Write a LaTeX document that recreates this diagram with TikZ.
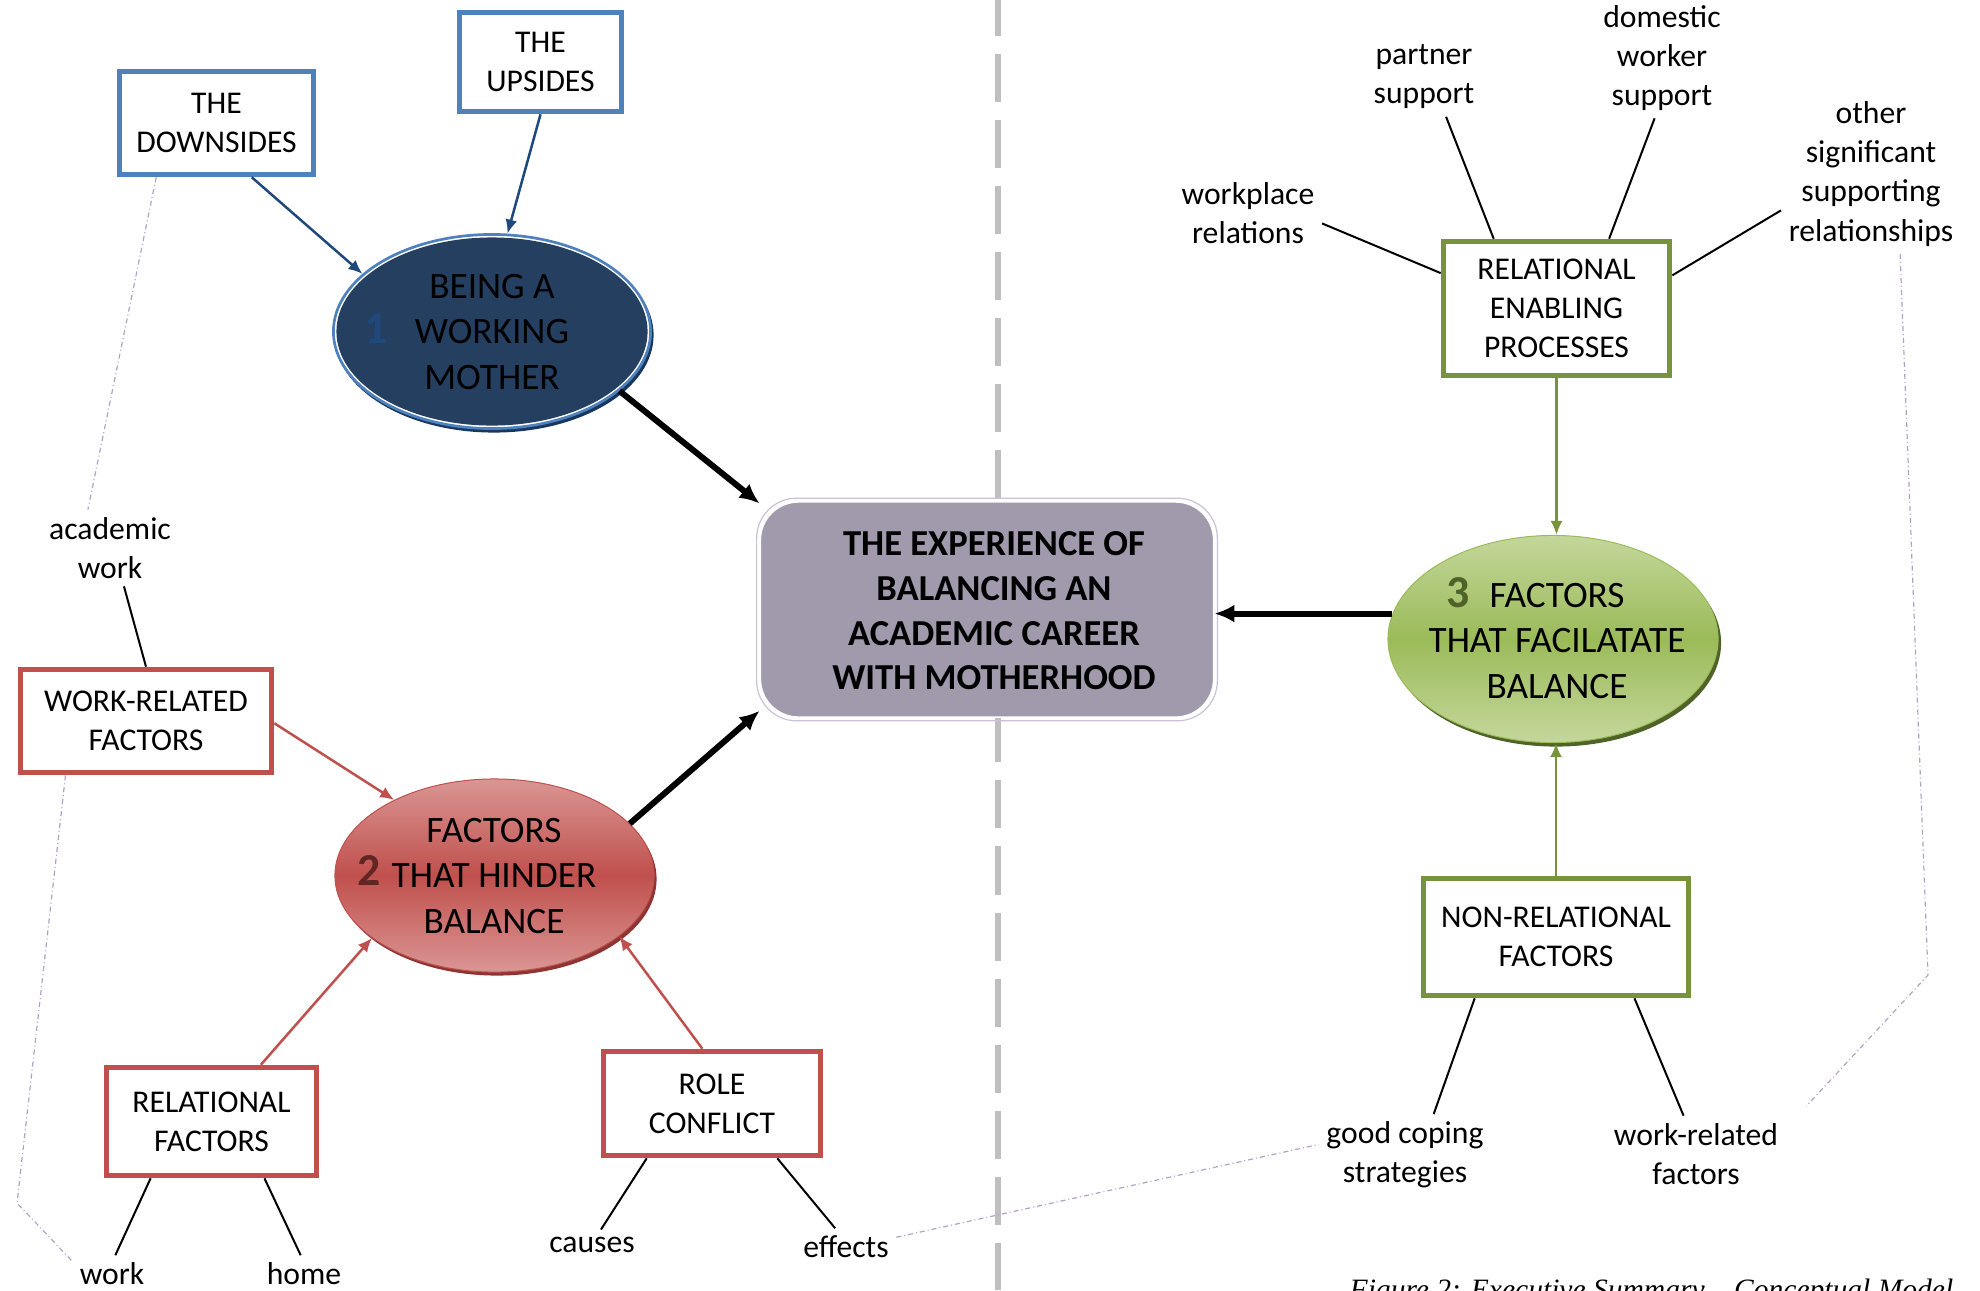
\documentclass[tikz,border=0pt]{standalone}
\usepackage{fontspec}
\setmainfont{Carlito}
\newfontfamily\capfont{Liberation Serif}
\usetikzlibrary{arrows.meta,shapes.geometric,calc}
\definecolor{bbl}{HTML}{4F81BD}
\definecolor{bdark}{HTML}{1F497D}
\definecolor{navy}{HTML}{243F60}
\definecolor{navysh}{HTML}{17375E}
\definecolor{rbox}{HTML}{C0504D}
\definecolor{rlight}{HTML}{DA9694}
\definecolor{rdark}{HTML}{8C3533}
\definecolor{rnum}{HTML}{632523}
\definecolor{gbox}{HTML}{77933C}
\definecolor{gmid}{HTML}{9BBB59}
\definecolor{glight}{HTML}{C4D79B}
\definecolor{gdark}{HTML}{4F6228}
\definecolor{cfill}{HTML}{A09AAC}
\definecolor{lav}{HTML}{CCC1DA}
\definecolor{lav2}{HTML}{B3A2C7}
\definecolor{divgray}{HTML}{BFBFBF}
\newcommand\bxf{\fontsize{9}{11.1}\selectfont}
\newcommand\elf{\fontsize{10.6}{12.9}\selectfont}
\newcommand\cbf{\fontsize{10.4}{12.7}\selectfont\bfseries}
\newcommand\numf{\fontsize{13}{13}\selectfont\bfseries}
\begin{document}
\begin{tikzpicture}[x=0.01cm,y=-0.01cm,
  bx/.style={draw, line width=0.055cm, fill=white, inner sep=0, align=center, font=\bxf},
  lab/.style={font=\bxf, align=center, inner sep=0.07cm},
  ellt/.style={font=\elf, align=center, inner sep=0},
  bigarr/.style={line width=0.06cm, -{Latex[length=0.2cm,width=0.18cm]}},
  smarr/.style={line width=0.025cm, -{Latex[length=0.14cm,width=0.12cm]}},
  lbl/.style={line width=0.02cm, draw=black},
  dd/.style={draw=lav2, line width=0.012cm, dash pattern=on 0.05cm off 0.03cm on 0.01cm off 0.03cm},
  ell/.style={ellipse, inner sep=0}
]
\useasboundingbox (0,0) rectangle (1980,1290);
\fill[white] (0,0) rectangle (1980,1290);

% divider
\draw[divgray, line width=0.06cm, dash pattern=on 0.48cm off 0.18cm, dash phase=0.12cm] (998,0) -- (998,1290);

% ---- ellipse 1
\node[ell, fill=navysh, minimum width=3.19cm, minimum height=1.95cm] (e1s) at (494,335) {};
\node[ell, draw=bbl, line width=0.027cm, fill=white, minimum width=3.17cm, minimum height=1.94cm] (e1) at (492,331.5) {};
\node[ell, fill=navy, minimum width=3.11cm, minimum height=1.88cm] (e1i) at (492,331.5) {};
\node[ellt] (e1t) at (492,332) {BEING A\\WORKING\\MOTHER};
\node[font=\numf, text=bdark, inner sep=0] (n1) at (376,329) {1};

% ---- ellipse 2
\node[ell, fill=rdark, minimum width=3.19cm, minimum height=1.93cm] (e2s) at (497,879) {};
\node[ell, draw=rbox, line width=0.01cm, top color=rlight, bottom color=rlight, middle color=rbox, minimum width=3.19cm, minimum height=1.93cm] (e2) at (494.5,875.5) {};
\node[ellt] (e2t) at (494,876) {FACTORS\\THAT HINDER\\BALANCE};
\node[font=\numf, text=rnum, inner sep=0] (n2) at (369,870) {2};

% ---- ellipse 3
\node[ell, fill=gdark, minimum width=3.3cm, minimum height=2.07cm] (e3s) at (1556,643) {};
\node[ell, draw=gmid, line width=0.01cm, top color=glight, bottom color=glight, middle color=gmid, minimum width=3.3cm, minimum height=2.07cm] (e3) at (1553,639) {};
\node[ellt] (e3t) at (1557,641) {FACTORS\\THAT FACILATATE\\BALANCE};
\node[font=\numf, text=gdark, inner sep=0] (n3) at (1458,593) {3};

% ---- centre box
\node[draw=white, line width=0.015cm, fill=cfill, rounded corners=0.38cm, minimum width=4.53cm, minimum height=2.15cm, inner sep=0] (c) at (987,609.5) {};
\draw[lav, line width=0.012cm, rounded corners=0.4cm] ($(c.north west)+(-3,-3)$) rectangle ($(c.south east)+(3,3)$);
\node[font=\cbf, align=center, inner sep=0] (ct) at (994,611) {THE EXPERIENCE OF\\BALANCING AN\\ACADEMIC CAREER\\WITH MOTHERHOOD};

% ---- boxes
\node[bx, draw=bbl, minimum width=1.94cm, minimum height=1.03cm] (dn) at (216.5,123) {THE\\DOWNSIDES};
\node[bx, draw=bbl, minimum width=1.62cm, minimum height=0.99cm] (up) at (540.5,62) {THE\\UPSIDES};
\node[bx, draw=rbox, minimum width=2.51cm, minimum height=1.03cm] (wr) at (146,721) {WORK-RELATED\\FACTORS};
\node[bx, draw=rbox, minimum width=2.10cm, minimum height=1.08cm] (rf) at (211.5,1121.5) {RELATIONAL\\FACTORS};
\node[bx, draw=rbox, minimum width=2.17cm, minimum height=1.04cm] (rc) at (712,1103.5) {ROLE\\CONFLICT};
\node[bx, draw=gbox, minimum width=2.26cm, minimum height=1.34cm] (rep) at (1556.5,308.5) {RELATIONAL\\ENABLING\\PROCESSES};
\node[bx, draw=gbox, minimum width=2.65cm, minimum height=1.17cm] (nrf) at (1556,937) {NON-RELATIONAL\\FACTORS};

% ---- labels
\node[lab] (aw) at (110,548) {academic\\work};
\node[lab] (wk) at (112,1274) {work};
\node[lab] (hm) at (304,1274) {home};
\node[lab] (ca) at (592,1245) {causes};
\node[lab] (ef) at (846,1247) {effects};
\node[lab] (wp) at (1248,213) {workplace\\relations};
\node[lab] (ps) at (1424,77) {partner\\support};
\node[lab] (dw) at (1662,58) {domestic\\worker\\support};
\node[lab] (os) at (1871,174) {other\\significant\\supporting\\relationships};
\node[lab] (gc) at (1405,1155) {good coping\\strategies};
\node[lab] (wf) at (1696,1154) {work-related\\factors};

% ---- arrows
\draw[smarr, draw=bdark] (dn.-57) -- (e1.156);
\draw[smarr, draw=bdark] (up.south) -- (e1.81);
\draw[bigarr] (e1.-25) -- (c.155.8);
\draw[bigarr] (e2.21.8) -- (c.204.7);
\draw[bigarr] (e3.171) -- (e3.171 -| c.east);
\draw[smarr, draw=rbox] (wr.-1.8) -- (e2.143.7);
\draw[smarr, draw=rbox] (rf.49.8) -- (e2.207.6);
\draw[smarr, draw=rbox] (rc.100) -- (e2.-26.1);
\draw[smarr, draw=gbox] (rep.south) -- (rep.south |- e3.north);
\draw[smarr, draw=gbox] (nrf.north) -- (nrf.north |- e3.south);

% ---- label lines
\draw[lbl] (aw.-70) -- (wr.north);
\draw[lbl] (rf.223.5) -- (wk.80);
\draw[lbl] (rf.-47) -- (hm.100);
\draw[lbl] (rc.220.7) -- (ca.60);
\draw[lbl] (rc.-40.7) -- (ef.120);
\draw[lbl] (wp.-8) -- (rep.163);
\draw[lbl] (ps.-61) -- (rep.132.5);
\draw[lbl] (dw.-97) -- (rep.53);
\draw[lbl] (os.202.9) -- (rep.16.6);
\draw[lbl] (nrf.217.8) -- (gc.55);
\draw[lbl] (nrf.-38.8) -- (wf.108);

% ---- dash-dot links
\coordinate (b1) at (17,1203);
\coordinate (b2) at (1928,975);
\draw[dd] (dn.222) -- (aw.120);
\draw[dd] (wr.214.9) -- (b1) -- (wk.162);
\draw[dd] (ef.11) -- (gc.173.5);
\draw[dd, shorten >=0.3cm] (os.-70) -- (b2) -- (wf.16);

% ---- caption (cut by the page edge, as in the reference)
\begin{scope}
\clip (0,0) rectangle (1980,1290);
\node[anchor=base west, inner sep=0, font=\capfont\fontsize{8.4}{10}\selectfont\itshape] (cap) at (1349,1299) {Figure 2: Executive Summary – Conceptual Model};
\end{scope}
\end{tikzpicture}
\end{document}
